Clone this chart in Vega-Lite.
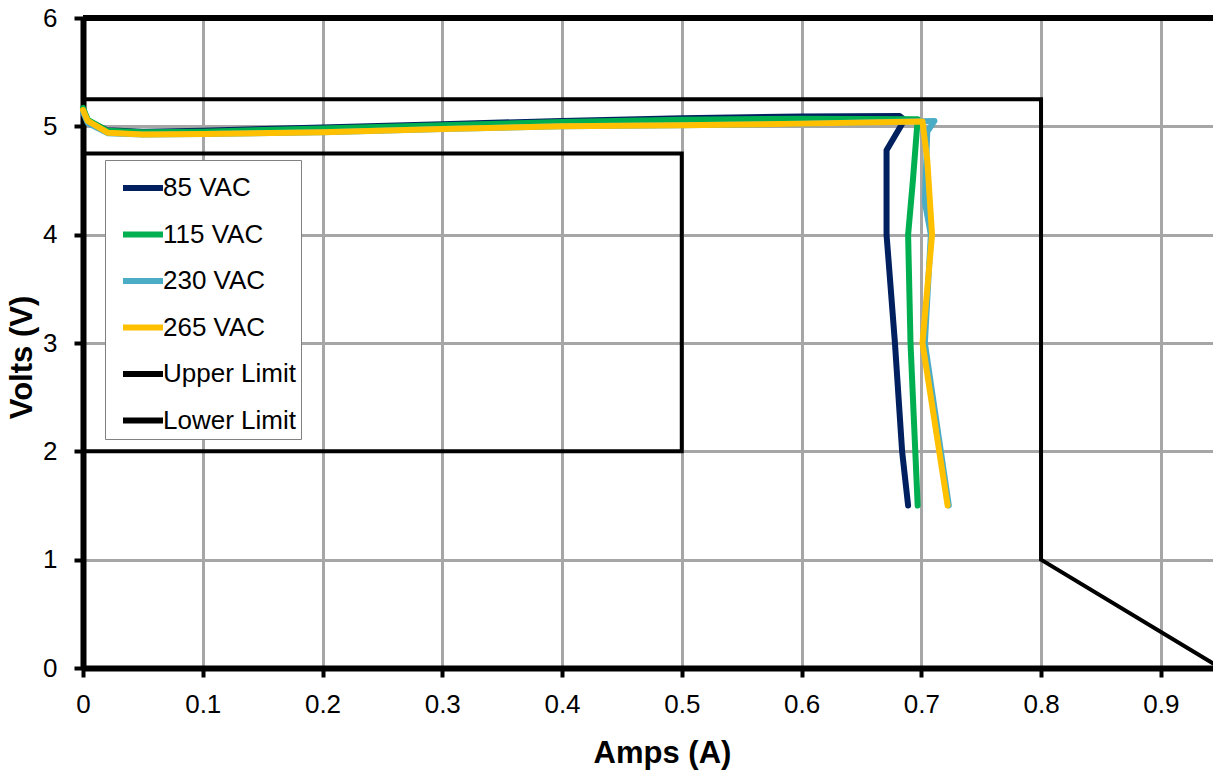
{
  "$schema": "https://vega.github.io/schema/vega-lite/v6.json",
  "autosize": "none",
  "width": 1130,
  "height": 650,
  "padding": {"left": 83, "top": 18, "right": 0, "bottom": 106},
  "background": "white",
  "config": {
    "view": {"stroke": null},
    "font": "Liberation Sans",
    "axis": {
      "domainColor": "black",
      "domainWidth": 6,
      "tickColor": "black",
      "tickWidth": 4,
      "tickSize": 9,
      "gridColor": "#A6A6A6",
      "gridWidth": 3,
      "labelFlush": false,
      "labelFont": "Liberation Sans",
      "labelFontSize": 26,
      "labelColor": "black",
      "titleFont": "Liberation Sans",
      "titleFontSize": 31,
      "titleFontWeight": "bold",
      "titleColor": "black"
    },
    "legend": {
      "orient": "none",
      "legendX": 22,
      "legendY": 142,
      "padding": 5,
      "strokeColor": "#808080",
      "fillColor": "white",
      "labelFont": "Liberation Sans",
      "labelFontSize": 26,
      "labelColor": "black",
      "symbolType": "stroke",
      "symbolSize": 1600,
      "symbolStrokeWidth": 6,
      "symbolOffset": 10,
      "rowPadding": 10.5,
      "labelOffset": -3,
      "labelLimit": 300
    }
  },
  "data": {
    "values": [
      {"series": "Upper Limit", "o": 0, "A": 0, "V": 5.25},
      {"series": "Upper Limit", "o": 1, "A": 0.8, "V": 5.25},
      {"series": "Upper Limit", "o": 2, "A": 0.8, "V": 1},
      {"series": "Upper Limit", "o": 3, "A": 0.95, "V": 0},
      {"series": "Lower Limit", "o": 0, "A": 0, "V": 4.75},
      {"series": "Lower Limit", "o": 1, "A": 0.5, "V": 4.75},
      {"series": "Lower Limit", "o": 2, "A": 0.5, "V": 2},
      {"series": "Lower Limit", "o": 3, "A": 0, "V": 2},

      {"series": "85 VAC", "o": 0, "A": 0, "V": 5.16},
      {"series": "85 VAC", "o": 1, "A": 0.004, "V": 5.05},
      {"series": "85 VAC", "o": 2, "A": 0.02, "V": 4.965},
      {"series": "85 VAC", "o": 3, "A": 0.05, "V": 4.95},
      {"series": "85 VAC", "o": 4, "A": 0.1, "V": 4.96},
      {"series": "85 VAC", "o": 5, "A": 0.2, "V": 4.99},
      {"series": "85 VAC", "o": 6, "A": 0.3, "V": 5.02},
      {"series": "85 VAC", "o": 7, "A": 0.4, "V": 5.05},
      {"series": "85 VAC", "o": 8, "A": 0.5, "V": 5.075},
      {"series": "85 VAC", "o": 9, "A": 0.6, "V": 5.09},
      {"series": "85 VAC", "o": 10, "A": 0.682, "V": 5.095},
      {"series": "85 VAC", "o": 11, "A": 0.686, "V": 5.06},
      {"series": "85 VAC", "o": 12, "A": 0.671, "V": 4.78},
      {"series": "85 VAC", "o": 13, "A": 0.671, "V": 4.0},
      {"series": "85 VAC", "o": 14, "A": 0.678, "V": 3.0},
      {"series": "85 VAC", "o": 15, "A": 0.684, "V": 2.0},
      {"series": "85 VAC", "o": 16, "A": 0.689, "V": 1.5},

      {"series": "115 VAC", "o": 0, "A": 0, "V": 5.17},
      {"series": "115 VAC", "o": 1, "A": 0.004, "V": 5.06},
      {"series": "115 VAC", "o": 2, "A": 0.02, "V": 4.96},
      {"series": "115 VAC", "o": 3, "A": 0.05, "V": 4.945},
      {"series": "115 VAC", "o": 4, "A": 0.1, "V": 4.95},
      {"series": "115 VAC", "o": 5, "A": 0.2, "V": 4.98},
      {"series": "115 VAC", "o": 6, "A": 0.3, "V": 5.01},
      {"series": "115 VAC", "o": 7, "A": 0.4, "V": 5.04},
      {"series": "115 VAC", "o": 8, "A": 0.5, "V": 5.06},
      {"series": "115 VAC", "o": 9, "A": 0.6, "V": 5.07},
      {"series": "115 VAC", "o": 10, "A": 0.697, "V": 5.065},
      {"series": "115 VAC", "o": 11, "A": 0.693, "V": 4.5},
      {"series": "115 VAC", "o": 12, "A": 0.689, "V": 4.0},
      {"series": "115 VAC", "o": 13, "A": 0.691, "V": 3.0},
      {"series": "115 VAC", "o": 14, "A": 0.695, "V": 2.0},
      {"series": "115 VAC", "o": 15, "A": 0.697, "V": 1.5},

      {"series": "230 VAC", "o": 0, "A": 0, "V": 5.13},
      {"series": "230 VAC", "o": 1, "A": 0.004, "V": 5.03},
      {"series": "230 VAC", "o": 2, "A": 0.021, "V": 4.935},
      {"series": "230 VAC", "o": 3, "A": 0.05, "V": 4.925},
      {"series": "230 VAC", "o": 4, "A": 0.1, "V": 4.93},
      {"series": "230 VAC", "o": 5, "A": 0.2, "V": 4.945},
      {"series": "230 VAC", "o": 6, "A": 0.3, "V": 4.975},
      {"series": "230 VAC", "o": 7, "A": 0.4, "V": 5.0},
      {"series": "230 VAC", "o": 8, "A": 0.5, "V": 5.01},
      {"series": "230 VAC", "o": 9, "A": 0.6, "V": 5.025},
      {"series": "230 VAC", "o": 10, "A": 0.711, "V": 5.05},
      {"series": "230 VAC", "o": 11, "A": 0.705, "V": 4.95},
      {"series": "230 VAC", "o": 12, "A": 0.703, "V": 4.3},
      {"series": "230 VAC", "o": 13, "A": 0.708, "V": 4.0},
      {"series": "230 VAC", "o": 14, "A": 0.703, "V": 3.0},
      {"series": "230 VAC", "o": 15, "A": 0.723, "V": 1.5},

      {"series": "265 VAC", "o": 0, "A": 0, "V": 5.15},
      {"series": "265 VAC", "o": 1, "A": 0.004, "V": 5.05},
      {"series": "265 VAC", "o": 2, "A": 0.021, "V": 4.94},
      {"series": "265 VAC", "o": 3, "A": 0.05, "V": 4.925},
      {"series": "265 VAC", "o": 4, "A": 0.1, "V": 4.93},
      {"series": "265 VAC", "o": 5, "A": 0.2, "V": 4.945},
      {"series": "265 VAC", "o": 6, "A": 0.3, "V": 4.975},
      {"series": "265 VAC", "o": 7, "A": 0.4, "V": 5.0},
      {"series": "265 VAC", "o": 8, "A": 0.5, "V": 5.01},
      {"series": "265 VAC", "o": 9, "A": 0.6, "V": 5.025},
      {"series": "265 VAC", "o": 10, "A": 0.701, "V": 5.045},
      {"series": "265 VAC", "o": 11, "A": 0.705, "V": 4.69},
      {"series": "265 VAC", "o": 12, "A": 0.709, "V": 4.0},
      {"series": "265 VAC", "o": 13, "A": 0.701, "V": 3.0},
      {"series": "265 VAC", "o": 14, "A": 0.722, "V": 1.5}
    ]
  },
  "encoding": {
    "x": {
      "field": "A",
      "type": "quantitative",
      "scale": {"domain": [0, 0.9436], "nice": false, "zero": false},
      "axis": {
        "values": [0, 0.1, 0.2, 0.3, 0.4, 0.5, 0.6, 0.7, 0.8, 0.9],
        "format": ".1~f",
        "title": "Amps (A)",
        "labelPadding": 14,
        "titleX": 579,
        "titleY": 94,
        "titleBaseline": "alphabetic",
        "titleAlign": "center"
      }
    },
    "y": {
      "field": "V",
      "type": "quantitative",
      "scale": {"domain": [0, 6], "nice": false},
      "axis": {
        "values": [0, 1, 2, 3, 4, 5, 6],
        "title": "Volts (V)",
        "labelPadding": 17,
        "titleX": -52,
        "titleY": 339,
        "titleBaseline": "alphabetic",
        "titleAlign": "center",
        "titleAngle": -90
      }
    },
    "color": {
      "field": "series",
      "type": "nominal",
      "scale": {
        "domain": ["85 VAC", "115 VAC", "230 VAC", "265 VAC", "Upper Limit", "Lower Limit"],
        "range": ["#002060", "#00B050", "#4BACC6", "#FFC000", "#000000", "#000000"]
      },
      "legend": {"title": null}
    },
    "order": {"field": "o", "type": "quantitative"}
  },
  "layer": [
    {
      "mark": {"type": "rule", "color": "black", "strokeWidth": 6},
      "encoding": {
        "y": {"datum": 6},
        "x": null,
        "color": null,
        "order": null
      }
    },
    {
      "transform": [{"filter": "datum.series === 'Upper Limit' || datum.series === 'Lower Limit'"}],
      "mark": {"type": "line", "strokeWidth": 4, "clip": true, "strokeCap": "butt", "strokeJoin": "miter"}
    },
    {
      "transform": [{"filter": "datum.series === '85 VAC'"}],
      "mark": {"type": "line", "strokeWidth": 6, "strokeCap": "round", "strokeJoin": "round"}
    },
    {
      "transform": [{"filter": "datum.series === '115 VAC'"}],
      "mark": {"type": "line", "strokeWidth": 6, "strokeCap": "round", "strokeJoin": "round"}
    },
    {
      "transform": [{"filter": "datum.series === '230 VAC'"}],
      "mark": {"type": "line", "strokeWidth": 6, "strokeCap": "round", "strokeJoin": "round"}
    },
    {
      "transform": [{"filter": "datum.series === '265 VAC'"}],
      "mark": {"type": "line", "strokeWidth": 6, "strokeCap": "round", "strokeJoin": "round"}
    }
  ]
}
